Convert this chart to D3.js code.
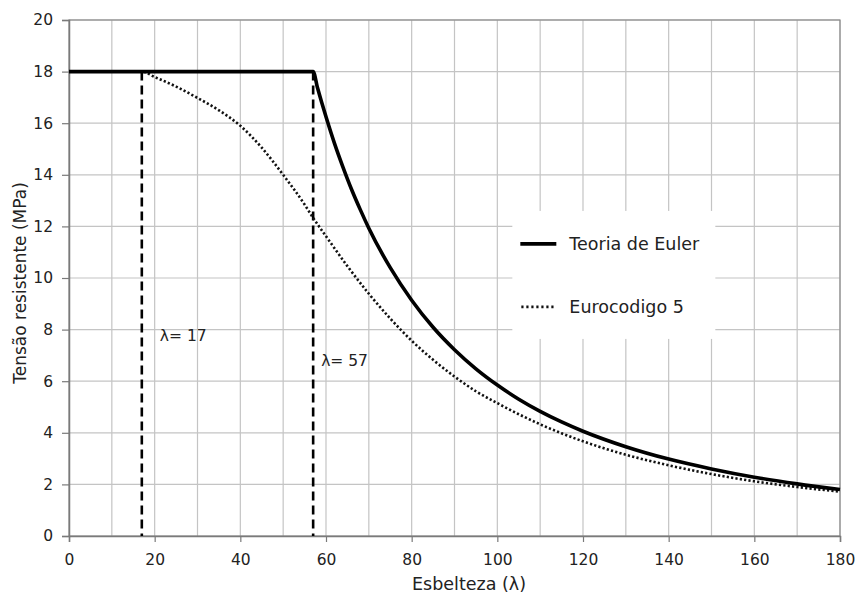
<!DOCTYPE html>
<html>
<head>
<meta charset="utf-8">
<script src="https://cdn.jsdelivr.net/npm/d3@7"></script>
<style>
  body { margin: 0; background: #fff; }
  text { font-family: "DejaVu Sans", sans-serif; fill: #222; }
</style>
</head>
<body>
<div id="chart"></div>
<script>
// Teoria de Euler (slenderness, stress MPa)
const eulerX = [0, 57, 58, 59, 60, 62, 64, 66, 68, 70, 75, 80, 85, 90, 95, 100, 105, 110, 115, 120, 130, 140, 150, 160, 170, 180];
const eulerY = [18, 18, 17.38, 16.8, 16.25, 15.21, 14.28, 13.42, 12.65, 11.93, 10.4, 9.14, 8.09, 7.22, 6.48, 5.85, 5.3, 4.83, 4.42, 4.06, 3.46, 2.98, 2.6, 2.28, 2.02, 1.8];

// Eurocodigo 5
const ec5X = [0, 17, 20, 25, 30, 35, 40, 45, 50, 55, 57, 60, 65, 70, 75, 80, 85, 90, 95, 100, 105, 110, 115, 120, 130, 140, 150, 160, 170, 180];
const ec5Y = [18, 18, 17.79, 17.42, 16.98, 16.5, 15.9, 15.05, 14.0, 12.85, 12.33, 11.62, 10.46, 9.39, 8.43, 7.57, 6.83, 6.18, 5.61, 5.15, 4.72, 4.33, 3.98, 3.67, 3.15, 2.74, 2.4, 2.12, 1.9, 1.72];

const markers = [17, 57];
const markerLabels = ["λ= 17", "λ= 57"];
const xTicks = [0, 20, 40, 60, 80, 100, 120, 140, 160, 180];
const yTicks = [0, 2, 4, 6, 8, 10, 12, 14, 16, 18, 20];
const seriesNames = ["Teoria de Euler", "Eurocodigo 5"];

const width = 857, height = 595;
const margins = { top: 20, right: 17, bottom: 59, left: 69 };
const innerWidth = width - margins.left - margins.right;
const innerHeight = height - margins.top - margins.bottom;

const svg = d3.select("#chart").append("svg")
  .attr("width", width)
  .attr("height", height);

const mainG = svg.append("g")
  .attr("transform", `translate(${margins.left},${margins.top})`);

const x = d3.scaleLinear().domain([0, 180]).range([0, innerWidth]);
const y = d3.scaleLinear().domain([0, 20]).range([innerHeight, 0]);

// Grid
const gridG = mainG.append("g").attr("class", "grid");
gridG.selectAll("line.v")
  .data(d3.range(10, 181, 10))
  .join("line")
  .attr("x1", d => x(d)).attr("x2", d => x(d))
  .attr("y1", 0).attr("y2", innerHeight)
  .attr("stroke", "#c4c4c4").attr("stroke-width", 1.2);
gridG.selectAll("line.h")
  .data(yTicks.slice(1))
  .join("line")
  .attr("x1", 0).attr("x2", innerWidth)
  .attr("y1", d => y(d)).attr("y2", d => y(d))
  .attr("stroke", "#c4c4c4").attr("stroke-width", 1.2);

// Frame
mainG.append("rect")
  .attr("x", 0).attr("y", 0)
  .attr("width", innerWidth).attr("height", innerHeight)
  .attr("fill", "none").attr("stroke", "#8a8a8a").attr("stroke-width", 1.2);

// Axes
const xAxisG = mainG.append("g")
  .attr("transform", `translate(0,${innerHeight})`)
  .call(d3.axisBottom(x).tickValues(xTicks).tickSize(6).tickPadding(12));
const yAxisG = mainG.append("g")
  .call(d3.axisLeft(y).tickValues(yTicks).tickSize(7).tickPadding(9));
[xAxisG, yAxisG].forEach(g => {
  g.select(".domain").attr("stroke", "#7a7a7a").attr("stroke-width", 1.5);
  g.selectAll(".tick line").attr("stroke", "#7a7a7a").attr("stroke-width", 1.2);
  g.selectAll(".tick text").attr("font-size", "15.5px").attr("fill", "#222")
    .attr("font-family", "DejaVu Sans, sans-serif");
});

// Dashed markers
mainG.selectAll("line.marker")
  .data(markers)
  .join("line")
  .attr("x1", d => x(d)).attr("x2", d => x(d))
  .attr("y1", y(18)).attr("y2", y(0))
  .attr("stroke", "#000").attr("stroke-width", 2.6)
  .attr("stroke-dasharray", "9,5");

mainG.selectAll("text.marker")
  .data(markers)
  .join("text")
  .attr("x", (d, i) => x(d) + (i === 0 ? 18 : 8))
  .attr("y", (d, i) => i === 0 ? 321 : 346)
  .attr("font-size", "15.5px")
  .text((d, i) => markerLabels[i]);

// Curves
const line = d3.line()
  .x(d => x(d[0]))
  .y(d => y(d[1]))
  .curve(d3.curveMonotoneX);

mainG.append("path")
  .datum(ec5X.map((v, i) => [v, ec5Y[i]]))
  .attr("d", line)
  .attr("fill", "none")
  .attr("stroke", "#111").attr("stroke-width", 2.6)
  .attr("stroke-dasharray", "2.2,2.2");

mainG.append("path")
  .datum(eulerX.map((v, i) => [v, eulerY[i]]))
  .attr("d", line)
  .attr("fill", "none")
  .attr("stroke", "#000").attr("stroke-width", 3.6);

// Legend
const legendG = mainG.append("g")
  .attr("transform", `translate(${x(103.5)},${y(12.6)})`);
legendG.append("rect")
  .attr("width", 203).attr("height", 128)
  .attr("fill", "#fff");
legendG.append("line")
  .attr("x1", 8).attr("x2", 44).attr("y1", 33).attr("y2", 33)
  .attr("stroke", "#000").attr("stroke-width", 3.6);
legendG.append("line")
  .attr("x1", 9).attr("x2", 42).attr("y1", 96).attr("y2", 96)
  .attr("stroke", "#111").attr("stroke-width", 2.6)
  .attr("stroke-dasharray", "2.2,2.8");
legendG.selectAll("text.leg")
  .data(seriesNames)
  .join("text")
  .attr("x", 57)
  .attr("y", (d, i) => 39 + i * 63)
  .attr("font-size", "17.5px")
  .text(d => d);

// Axis titles
svg.append("text")
  .attr("x", 469)
  .attr("y", height - 5)
  .attr("text-anchor", "middle")
  .attr("font-size", "17.5px")
  .text("Esbelteza (λ)");

svg.append("text")
  .attr("transform", `translate(26,283) rotate(-90)`)
  .attr("text-anchor", "middle")
  .attr("font-size", "17px")
  .text("Tensão resistente (MPa)");
</script>
</body>
</html>
